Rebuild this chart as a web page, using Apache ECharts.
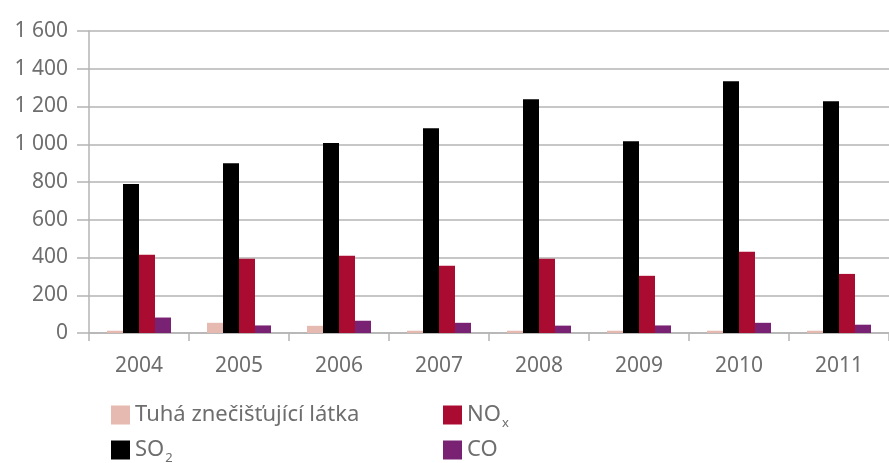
<!DOCTYPE html>
<html>
<head>
<meta charset="utf-8">
<script src="https://cdn.jsdelivr.net/npm/echarts@6/dist/echarts.min.js"></script>
<style>
    html, body {
        margin: 0;
        padding: 0;
        background: #fff;
    }

    #canvas {
        width: 889px;
        height: 463px;
    }
</style>
</head>
<body>
<div id="canvas"></div>
<script>
// roky a hodnoty emisí
const years = ['2004', '2005', '2006', '2007', '2008', '2009', '2010', '2011'];
const tuha = [12, 54, 38, 12, 12, 12, 12, 12];
const so2 = [790, 900, 1006, 1085, 1238, 1016, 1334, 1228];
const nox = [414, 393, 409, 356, 393, 303, 430, 313];
const co = [82, 40, 65, 54, 39, 40, 54, 44];
const yTicks = {min: 0, max: 1600, interval: 200};

const colors = {
    tuha: '#e6b9b1',
    so2: '#000000',
    nox: '#aa0c31',
    co: '#792273'
};
const gridColor = '#b4b4b4';
const textColor = '#6e6e6e';
const fontFamily = '"Noto Sans", "Open Sans", sans-serif';

const chart = echarts.init(document.getElementById('canvas'), null, {renderer: 'canvas'});

// mezera jako oddělovač tisíců
const fmtNumber = (v) => {
    return String(v).replace(/\B(?=(\d{3})+(?!\d))/g, ' ');
};

// dolní index v legendě (NOx, SO2)
const fmtLegend = (name) => {
    if (name === 'NOx')
        return 'NO{sub|x}';
    if (name === 'SO2')
        return 'SO{sub|2}';
    return name;
};

const legendText = {
    color: textColor,
    fontSize: 22,
    fontFamily: fontFamily,
    rich: {
        sub: {
            color: textColor,
            fontSize: 13,
            fontFamily: fontFamily,
            verticalAlign: 'bottom',
            padding: [16, 0, 0, 1]
        }
    }
};

// jedna legenda na položku, ať sedí do dvou sloupců
const makeLegend = (name, left, top) => {
    return {
        left: left,
        top: top,
        padding: 0,
        itemWidth: 19,
        itemHeight: 19,
        icon: 'rect',
        data: [name],
        formatter: fmtLegend,
        textStyle: legendText,
        selectedMode: false
    };
};

const makeBar = (name, data, color) => {
    return {
        name: name,
        type: 'bar',
        data: data,
        barGap: '0%',
        barCategoryGap: '36%',
        itemStyle: {color: color},
        emphasis: {disabled: true}
    };
};

chart.setOption({
    animation: false,
    textStyle: {fontFamily: fontFamily},
    grid: {
        left: 89,
        right: 0,
        top: 31,
        bottom: 130,
        containLabel: false
    },
    legend: [
        makeLegend('Tuhá znečišťující látka', 111, 404),
        makeLegend('NOx', 443, 404),
        makeLegend('SO2', 111, 439),
        makeLegend('CO', 443, 439)
    ],
    xAxis: {
        type: 'category',
        data: years,
        boundaryGap: true,
        axisLine: {show: true, lineStyle: {color: gridColor, width: 1.5}},
        axisTick: {show: true, length: 8, alignWithLabel: false, lineStyle: {color: gridColor, width: 1.5}},
        axisLabel: {
            color: textColor,
            fontSize: 21,
            fontFamily: fontFamily,
            margin: 23
        },
        splitLine: {show: false}
    },
    yAxis: {
        type: 'value',
        min: yTicks.min,
        max: yTicks.max,
        interval: yTicks.interval,
        axisLine: {show: true, lineStyle: {color: gridColor, width: 1.5}},
        axisTick: {show: true, length: 12, lineStyle: {color: gridColor, width: 1.5}},
        axisLabel: {
            color: textColor,
            fontSize: 21,
            fontFamily: fontFamily,
            margin: 21,
            formatter: fmtNumber
        },
        splitLine: {show: true, lineStyle: {color: gridColor, width: 1.5}}
    },
    series: [
        makeBar('Tuhá znečišťující látka', tuha, colors.tuha),
        makeBar('SO2', so2, colors.so2),
        makeBar('NOx', nox, colors.nox),
        makeBar('CO', co, colors.co)
    ]
});
</script>
</body>
</html>
